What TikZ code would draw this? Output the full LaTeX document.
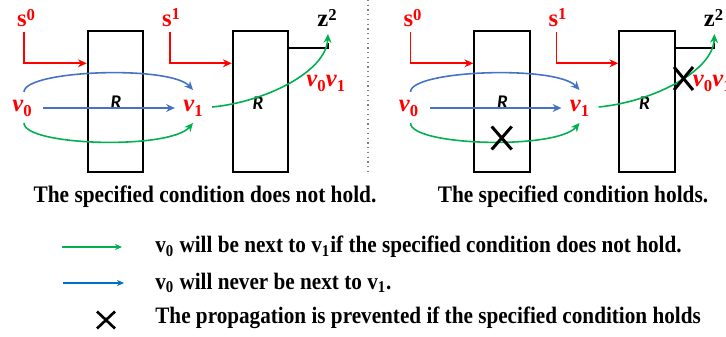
\documentclass[tikz,border=0pt]{standalone}
\usepackage{fontspec}
\setmainfont{Liberation Serif}
\newfontfamily\capfont[FakeStretch=0.9]{Liberation Serif}
\newfontfamily\rfont{Carlito}
\usetikzlibrary{arrows.meta}
\definecolor{myred}{RGB}{255,0,0}
\definecolor{mygreen}{RGB}{0,176,80}
\definecolor{myblue}{RGB}{68,114,196}
\definecolor{lgblue}{RGB}{0,112,192}
\newcommand\lbls[2]{#1\raisebox{0.6ex}{\fontsize{9.5}{10}\selectfont #2}}
\newcommand\lblv[1]{\textit{v}\raisebox{-0.45ex}{\fontsize{9.5}{10}\selectfont #1}}
\newcommand\drawpanel[1]{%
  \node[box] (#1b1) at (115.5,101.2) {};
  \node[box] (#1b2) at (260.5,101.2) {};
  \node[rlab] (#1R1) at (116,102) {R};
  \node[rlab] (#1R2) at (258,103) {R};
  \node[mlab] (#1s0) at (26,18) {\lbls{s}{0}};
  \node[mlab] (#1s1) at (171,18) {\lbls{s}{1}};
  \node[mlab,text=black] (#1z2) at (327,18) {\lbls{z}{2}};
  \node[mlab] (#1v0) at (22,108) {\lblv{0}};
  \node[mlab] (#1v1) at (193,108) {\lblv{1}};
  \node[mlab,anchor=west] (#1vv) at (306,83) {\lblv{0}\lblv{1}};
  \coordinate (#1a0) at (24,32);
  \coordinate (#1c0) at (24,63.3);
  \coordinate (#1a1) at (170,32);
  \coordinate (#1c1) at (170,63.3);
  \coordinate (#1p1) at (24,92);
  \coordinate (#1p2) at (193,90);
  \coordinate (#1q1) at (24,123);
  \coordinate (#1q2) at (193,123);
  \coordinate (#1t0) at (328,34);
  \coordinate (#1k0) at (328,47.7);
  \coordinate (#1k1) at (328,43);
  \draw[redarr] (#1a0) -- (#1c0) -- (#1c0 -| #1b1.west);
  \draw[redarr] (#1a1) -- (#1c1) -- (#1c1 -| #1b2.west);
  \draw[black,line width=1.1pt] (#1k0 -| #1b2.east) -- (#1k0) -- (#1k1);
  \draw[bluearr] (#1p1) .. controls (24,70) and (170,65) .. (#1p2);
  \draw[bluearr] ([xshift=0.22cm]#1v0.east) -- ([xshift=-0.16cm]#1v1.west);
  \draw[greenarr] (#1q1) .. controls (24,146) and (170,150) .. (#1q2);
  \draw[greenarr] ([xshift=0.18cm,yshift=0.02cm]#1v1.east) .. controls (265,102) and (326,72) .. (#1t0);
}
\begin{document}
\begin{tikzpicture}[x=0.02cm,y=-0.02cm,
  box/.style={draw=black,line width=1.1pt,minimum width=1.112cm,minimum height=2.82cm,inner sep=0pt},
  rlab/.style={font=\rfont\bfseries\itshape\fontsize{11}{11}\selectfont,inner sep=0pt},
  mlab/.style={text=myred,font=\bfseries\fontsize{14}{14}\selectfont,inner sep=0pt},
  redarr/.style={draw=myred,line width=1pt,-{Stealth[length=5pt,width=4.5pt]}},
  bluearr/.style={draw=myblue,line width=0.9pt,-{Stealth[length=5pt,width=4.5pt]}},
  greenarr/.style={draw=mygreen,line width=0.9pt,-{Stealth[length=5pt,width=4.5pt]}},
  xmark/.style={draw=black,line width=1.7pt},
  captxt/.style={font=\capfont\bfseries\fontsize{13.5}{15}\selectfont,inner sep=0pt},
  legtxt/.style={font=\capfont\bfseries\fontsize{13.4}{15}\selectfont,inner sep=0pt,anchor=west}]
\useasboundingbox (0,0) rectangle (726,337);
\begin{scope}
\clip (0,0) rectangle (726,337);
\drawpanel{L}
\begin{scope}[shift={(386.5,0)}]
\drawpanel{Q}
\end{scope}
\end{scope}
% divider
\coordinate (d0) at (368,0);
\coordinate (d1) at (368,173);
\draw[gray,dotted,line width=0.7pt] (d0) -- (d1);
% X marks in right panel
\coordinate (x1) at (501.7,138);
\coordinate (x2) at (683.5,78.5);
\draw[xmark] ([shift={(-10,-11.5)}]x1) -- ([shift={(10,11.5)}]x1);
\draw[xmark] ([shift={(-10,11.5)}]x1) -- ([shift={(10,-11.5)}]x1);
\draw[xmark] ([shift={(-9.5,-11.5)}]x2) -- ([shift={(9.5,11.5)}]x2);
\draw[xmark] ([shift={(-9.5,11.5)}]x2) -- ([shift={(9.5,-11.5)}]x2);
% captions
\node[captxt] (cap1) at (205,197) {The specified condition does not hold.};
\node[captxt] (cap2) at (573,197) {The specified condition holds.};
% legend
\coordinate (g0) at (62,247);
\coordinate (g1) at (122,247);
\coordinate (h0) at (63,283);
\coordinate (h1) at (124,283);
\coordinate (x3) at (106,320);
\draw[draw=mygreen,line width=0.9pt,-{Stealth[length=4pt,width=3.5pt]}] (g0) -- (g1);
\draw[draw=lgblue,line width=0.9pt,-{Stealth[length=4pt,width=3.5pt]}] (h0) -- (h1);
\draw[black,line width=1.5pt] ([shift={(-9,-8.5)}]x3) -- ([shift={(9,8.5)}]x3);
\draw[black,line width=1.5pt] ([shift={(-9,8.5)}]x3) -- ([shift={(9,-8.5)}]x3);
\node[legtxt] (leg1) at (155,247) {v\textsubscript{0} will be next to v\textsubscript{1}if the specified condition does not hold.};
\node[legtxt] (leg2) at (155,283) {v\textsubscript{0} will never be next to v\textsubscript{1}.};
\node[legtxt] (leg3) at (155,318) {The propagation is prevented if the specified condition holds};
\end{tikzpicture}
\end{document}
